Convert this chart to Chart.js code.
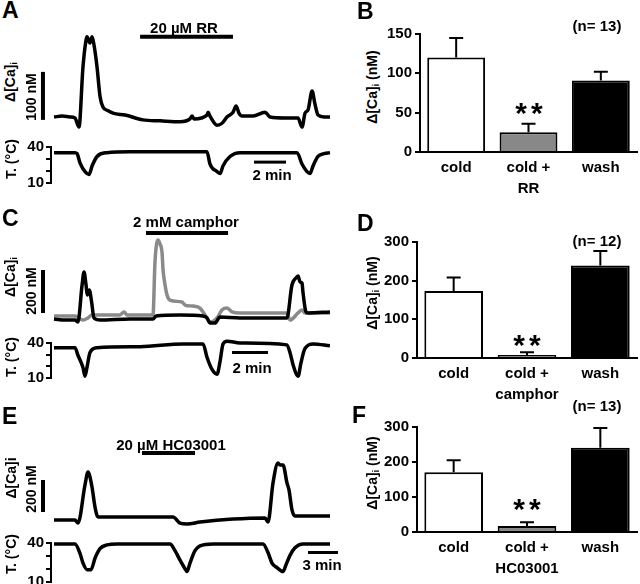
<!DOCTYPE html>
<html lang="en">
<head>
<meta charset="UTF-8">
<title>Cold-evoked [Ca]i responses</title>
<script src="https://cdn.jsdelivr.net/npm/chart.js"></script>
<style>
    body {
        margin: 0;
        width: 640px;
        height: 584px;
        position: relative;
        overflow: hidden;
        background: #fff;
        font-family: "Liberation Sans", Arial, sans-serif;
        font-weight: bold;
        color: #000;
    }
    canvas { position: absolute; }
    .t {
        position: absolute;
        white-space: nowrap;
        line-height: 1;
        font-size: 15px;
        transform: translate(-50%, -50%);
    }
    .r { font-size: 14px; transform: translate(-50%, -50%) rotate(-90deg); }
    .big { font-size: 23px; transform: none; }
    .star { font-size: 30px; letter-spacing: 4px; }
    sub { font-size: 9px; vertical-align: -2px; }
</style>
</head>
<body>

<canvas id="aCa"></canvas><canvas id="aT"></canvas>
<canvas id="cCa"></canvas><canvas id="cT"></canvas>
<canvas id="eCa"></canvas><canvas id="eT"></canvas>
<canvas id="bBar"></canvas><canvas id="dBar"></canvas><canvas id="fBar"></canvas>

<div class="t big" style="left:2px;top:-1px">A</div>
<div class="t" style="left:184px;top:27px">20 µM RR</div>
<div class="t r" style="left:11px;top:82px">Δ[Ca]<sub>i</sub></div>
<div class="t r" style="left:31px;top:97px">100 nM</div>
<div class="t r" style="left:11px;top:159px">T. (°C)</div>
<div class="t" style="left:272px;top:174px">2 min</div>

<div class="t big" style="left:2px;top:207px">C</div>
<div class="t" style="left:186px;top:221px">2 mM camphor</div>
<div class="t r" style="left:11px;top:277px">Δ[Ca]<sub>i</sub></div>
<div class="t r" style="left:31px;top:291px">200 nM</div>
<div class="t r" style="left:11px;top:357px">T. (°C)</div>
<div class="t" style="left:252px;top:367px">2 min</div>

<div class="t big" style="left:2px;top:405px">E</div>
<div class="t" style="left:171px;top:444px">20 µM HC03001</div>
<div class="t r" style="left:11px;top:478px">Δ[Ca]i</div>
<div class="t r" style="left:31px;top:489px">200 nM</div>
<div class="t r" style="left:11px;top:554px">T. (°C)</div>
<div class="t" style="left:322px;top:564px">3 min</div>

<div class="t big" style="left:357px;top:0px">B</div>
<div class="t r" style="left:373px;top:87px">Δ[Ca]<sub>i</sub> (nM)</div>
<div class="t" style="left:597px;top:25px">(n= 13)</div>
<div class="t star" style="left:531px;top:113px">**</div>

<div class="t big" style="left:357px;top:212px">D</div>
<div class="t r" style="left:373px;top:293px">Δ[Ca]<sub>i</sub> (nM)</div>
<div class="t" style="left:597px;top:240px">(n= 12)</div>
<div class="t star" style="left:529px;top:345px">**</div>

<div class="t big" style="left:352px;top:404px">F</div>
<div class="t r" style="left:373px;top:473px">Δ[Ca]<sub>i</sub> (nM)</div>
<div class="t" style="left:597px;top:405px">(n= 13)</div>
<div class="t star" style="left:529px;top:509px">**</div>

<script>
    // traces: time in min, Δ[Ca]i in nM above baseline, temperature in °C
    const aTime = [0, 0.5, 1, 1.31, 1.56, 1.81, 2, 2.06, 2.25, 2.38, 2.5, 2.69, 2.88, 3.06, 3.38, 3.69, 4.44, 5.56, 6.63, 7.88,
                   8.5, 8.63, 8.75, 9.56, 9.63, 9.75, 10.19, 10.5, 10.81, 11.19, 11.38, 11.56, 11.75, 12.44, 13.19, 13.5, 14.44,
                   15.25, 15.5, 15.69, 15.88, 16.13, 16.31, 16.5, 16.88, 17.25];
    const aCa = [0, 2, 0, -2, -21, 104, 160, 167, 154, 167, 150, 104, 42, 21, 13, 8, 4, -6, -8, -10,
                 -4, 2, -4, 4, 10, 2, -17, -13, 0, 10, 23, 8, 2, 2, 10, 0, -2,
                 -2, -21, 8, 15, 54, 27, 4, 0, 0];
    const aTempTime = [0, 1.31, 1.44, 1.63, 1.94, 2.19, 2.38, 2.69, 3.31, 4.75, 9.56, 9.75, 10.19, 10.38, 10.56, 11, 11.63,
                       15.19, 15.5, 15.81, 16, 16.19, 16.5, 16.88, 17.25];
    const aTemp = [35.3, 35.3, 34.5, 26.6, 19.5, 17.1, 24.2, 32.1, 35.3, 36.1, 36.1, 25.8, 19.5, 17.9, 24.2, 32.1, 35.3,
                   35.3, 25.8, 19.5, 17.9, 24.2, 32.1, 34.5, 35.3];

    const cTime = [0, 0.61, 1.17, 1.33, 1.56, 1.67, 1.78, 1.85, 1.96, 2.09, 2.22, 2.56, 4.22, 5.5, 5.67, 7, 8.28, 8.5, 8.67,
                   8.94, 9.22, 10.33, 12.94, 13.22, 13.44, 13.56, 13.67, 13.78, 13.83, 14, 14.11, 15.33];
    const cCa = [0, -5, -5, -14, 158, 219, 158, 112, 135, 79, 5, -5, 0, 0, 14, 19, 14, 5, -19,
                 -19, 9, 5, 5, 158, 191, 200, 172, 167, 126, 33, 28, 33];
    const cGrayTime = [0, 1.17, 1.61, 1.89, 2.11, 3.67, 3.89, 4.06, 5.5, 5.61, 5.78, 5.89, 6, 6.06, 6.17, 6.28, 6.44, 7.11,
                       7.28, 7.72, 8.11, 8.39, 8.67, 9.06, 9.33, 9.61, 9.89, 10.33, 12.94, 13.11, 13.56, 13.78, 13.94, 15.33];
    const cCaGray = [14, 14, -5, 5, 19, 19, 33, 19, 19, 265, 367, 349, 312, 228, 158, 112, 88, 79,
                     65, 60, 51, 19, -14, 5, 42, 51, 33, 28, 28, -5, 28, 42, 28, 28];
    const cTempTime = [0, 1.17, 1.33, 1.61, 1.72, 1.83, 2, 2.39, 4.78, 7.17, 8.28, 8.5, 8.78, 9.06, 9.22, 9.39, 9.61, 10.33,
                       12.94, 13.11, 13.28, 13.56, 13.72, 13.94, 14.39, 15.33];
    const cTemp = [35.9, 35.9, 29.5, 18.9, 11.6, 18.9, 31.9, 35.9, 36.8, 39.2, 39.2, 27.8, 17.3, 13.2, 23.8, 39.2, 41.6, 40,
                   38.4, 31.9, 21.4, 11.6, 23, 35.1, 39.2, 37.6];

    const eTime = [0, 2.1, 2.4, 3.1, 3.4, 3.8, 4.1, 4.4, 6.6, 11.9, 12.6, 13.3, 14.6, 17.9, 21.1, 21.4, 21.9, 22.4, 22.6,
                   22.9, 23.3, 23.5, 23.8, 24.1, 27.6];
    const eCa = [0, 0, -19, 219, 300, 206, 81, 19, 19, 19, -19, -25, -13, 6, 13, -13, 231, 356, 344,
                 344, 231, 188, 63, 25, 25];
    const eTempTime = [0, 2.1, 2.6, 2.9, 3.3, 3.7, 4.1, 4.6, 5.3, 6.3, 11.6, 12.1, 12.6, 13.1, 13.3, 13.6, 14.1, 14.6, 15.9,
                       20.9, 21.4, 21.8, 22.3, 22.9, 23.2, 23.6, 24.1, 24.9, 27.6];
    const eTemp = [39.3, 39.3, 32, 24.6, 19.5, 19.5, 28.3, 35.6, 38.5, 39.3, 39.3, 34.1, 26.8, 20.2, 18, 24.6, 34.1, 37.8, 39.3,
                   39.3, 32.7, 24.6, 21, 18, 23.2, 30.5, 36.3, 39.3, 39.3];

    // drug application [start, end] (min)
    const aDrug = [5.38, 11.19];
    const cDrug = [5.11, 9.67];
    const eDrug = [8.8, 14.1];

    // bar panels: mean and SEM (nM)
    const bLabels = ["cold", ["cold +", "RR"], "wash"];
    const bMean = [120, 25, 91];
    const bSem = [25, 11, 11];
    const dLabels = ["cold", ["cold +", "camphor"], "wash"];
    const dMean = [173, 8, 239];
    const dSem = [35, 7, 38];
    const fLabels = ["cold", ["cold +", "HC03001"], "wash"];
    const fMean = [171, 17, 241];
    const fSem = [34, 11, 56];

    Chart.defaults.font.family = '"Liberation Sans", Arial, sans-serif';
    Chart.defaults.font.weight = 'bold';
    Chart.defaults.color = '#000';

    // scale bars, drug bars and error bars, keyed by canvas id
    const extras = {
        aCa: { h: [{ from: aDrug[0], to: aDrug[1], at: 167, w: 4 }], v: [{ at: -0.69, from: -6, to: 94, w: 4 }] },
        aT:  { h: [{ from: 12.5, to: 14.5, at: 27.4, w: 3 }] },
        cCa: { h: [{ from: cDrug[0], to: cDrug[1], at: 400, w: 4 }], v: [{ at: -0.61, from: 28, to: 228, w: 4 }] },
        cT:  { h: [{ from: 9.89, to: 11.89, at: 31.9, w: 3 }] },
        eCa: { h: [{ from: eDrug[0], to: eDrug[1], at: 419, w: 4 }], v: [{ at: -1.1, from: 50, to: 250, w: 4 }] },
        eT:  { h: [{ from: 25.4, to: 28.4, at: 32.7, w: 3 }] },
        bBar: { sem: bSem },
        dBar: { sem: dSem },
        fBar: { sem: fSem }
    };

    const marks = {
        id: 'marks',
        afterDatasetsDraw(chart) {
            const ex = extras[chart.canvas.id];
            if (!ex) return;
            const ctx = chart.ctx, x = chart.scales.x, y = chart.scales.y;
            ctx.save();
            ctx.strokeStyle = '#000';
            (ex.h || []).forEach(b => {
                ctx.lineWidth = b.w;
                ctx.beginPath();
                ctx.moveTo(x.getPixelForValue(b.from), y.getPixelForValue(b.at));
                ctx.lineTo(x.getPixelForValue(b.to), y.getPixelForValue(b.at));
                ctx.stroke();
            });
            (ex.v || []).forEach(b => {
                ctx.lineWidth = b.w;
                ctx.beginPath();
                ctx.moveTo(x.getPixelForValue(b.at), y.getPixelForValue(b.from));
                ctx.lineTo(x.getPixelForValue(b.at), y.getPixelForValue(b.to));
                ctx.stroke();
            });
            if (ex.sem) {
                const mean = chart.data.datasets[0].data;
                chart.getDatasetMeta(0).data.forEach((bar, i) => {
                    const top = y.getPixelForValue(mean[i] + ex.sem[i]);
                    ctx.lineWidth = 2;
                    ctx.beginPath();
                    ctx.moveTo(bar.x, bar.y);
                    ctx.lineTo(bar.x, top);
                    ctx.moveTo(bar.x - 7, top);
                    ctx.lineTo(bar.x + 7, top);
                    ctx.stroke();
                });
            }
            ctx.restore();
        }
    };

    function place(id, left, top, w, h) {
        const c = document.getElementById(id);
        c.width = w;
        c.height = h;
        c.style.left = left + 'px';
        c.style.top = top + 'px';
        return c;
    }

    function trace(t, v, color) {
        return {
            data: t.map((x, i) => ({ x: x, y: v[i] })),
            borderColor: color,
            borderWidth: 3.5,
            pointRadius: 0,
            cubicInterpolationMode: 'monotone',
            clip: false
        };
    }

    // trace start (t = 0) sits at page x = 54
    function caChart(id, top, bottom, pxPerMin, yMin, yMax, datasets) {
        const left = 38, right = 332;
        return new Chart(place(id, left, top, right - left, bottom - top), {
            type: 'line',
            data: { datasets: datasets },
            options: {
                responsive: false,
                animation: false,
                plugins: { legend: { display: false }, tooltip: { enabled: false } },
                scales: {
                    x: { type: 'linear', display: false, min: (left - 54) / pxPerMin, max: (right - 54) / pxPerMin },
                    y: { display: false, min: yMin, max: yMax }
                }
            },
            plugins: [marks]
        });
    }

    function tempChart(id, y40, y10, pxPerMin, t, v) {
        const left = 20, right = 345, axisW = 31;
        return new Chart(place(id, left, y40 - 10, right - left, y10 - y40 + 20), {
            type: 'line',
            data: { datasets: [trace(t, v, '#000')] },
            options: {
                responsive: false,
                animation: false,
                layout: { padding: { top: 10, bottom: 10 } },
                plugins: { legend: { display: false }, tooltip: { enabled: false } },
                scales: {
                    x: { type: 'linear', display: false, min: (left + axisW - 54) / pxPerMin, max: (right - 54) / pxPerMin },
                    y: {
                        min: 10, max: 40,
                        afterFit: s => { s.width = axisW; },
                        ticks: {
                            stepSize: 10, padding: 2, autoSkip: false, font: { size: 15 },
                            callback: val => (val === 10 || val === 40) ? val : ''
                        },
                        grid: { drawOnChartArea: false, tickLength: 5, lineWidth: 2, color: '#000' },
                        border: { width: 2, color: '#000' }
                    }
                }
            },
            plugins: [marks]
        });
    }

    function barChart(id, axisX, yTop, yZero, max, step, labels, mean) {
        const axisW = 38, left = axisX - axisW, top = yTop - 10;
        return new Chart(place(id, left, top, 640 - left, yZero - top + 50), {
            type: 'bar',
            data: {
                labels: labels,
                datasets: [{
                    data: mean,
                    backgroundColor: ['#ffffff', '#888888', '#000000'],
                    borderColor: '#000',
                    borderWidth: 2,
                    barPercentage: 0.8,
                    categoryPercentage: 1
                }]
            },
            options: {
                responsive: false,
                animation: false,
                layout: { padding: { top: 10, right: 3 } },
                plugins: { legend: { display: false }, tooltip: { enabled: false } },
                scales: {
                    x: {
                        afterFit: s => { s.height = 50; },
                        grid: { display: false, drawTicks: false },
                        border: { width: 2, color: '#000' },
                        ticks: { padding: 6, maxRotation: 0, autoSkip: false, font: { size: 15, lineHeight: 1.35 } }
                    },
                    y: {
                        min: 0, max: max,
                        afterFit: s => { s.width = axisW; },
                        ticks: { stepSize: step, padding: 3, autoSkip: false, font: { size: 15 } },
                        grid: { drawOnChartArea: false, tickLength: 5, lineWidth: 2, color: '#000' },
                        border: { width: 2, color: '#000' }
                    }
                }
            },
            plugins: [marks]
        });
    }

    caChart('aCa', 30, 135, 16, -37.5, 181.25, [trace(aTime, aCa, '#000')]);
    tempChart('aT', 146, 184, 16, aTempTime, aTemp);

    caChart('cCa', 228, 330, 18, -51.2, 423.3, [trace(cTime, cCa, '#000'), trace(cGrayTime, cCaGray, '#8a8a8a')]);
    tempChart('cT', 342, 379, 18, cTempTime, cTemp);

    caChart('eCa', 446, 530, 10, -62.5, 462.5, [trace(eTime, eCa, '#000')]);
    tempChart('eT', 542, 583, 10, eTempTime, eTemp);

    barChart('bBar', 420, 32, 152, 150, 50, bLabels, bMean);
    barChart('dBar', 417, 240, 358, 300, 100, dLabels, dMean);
    barChart('fBar', 417, 425, 532, 300, 100, fLabels, fMean);
</script>
</body>
</html>
